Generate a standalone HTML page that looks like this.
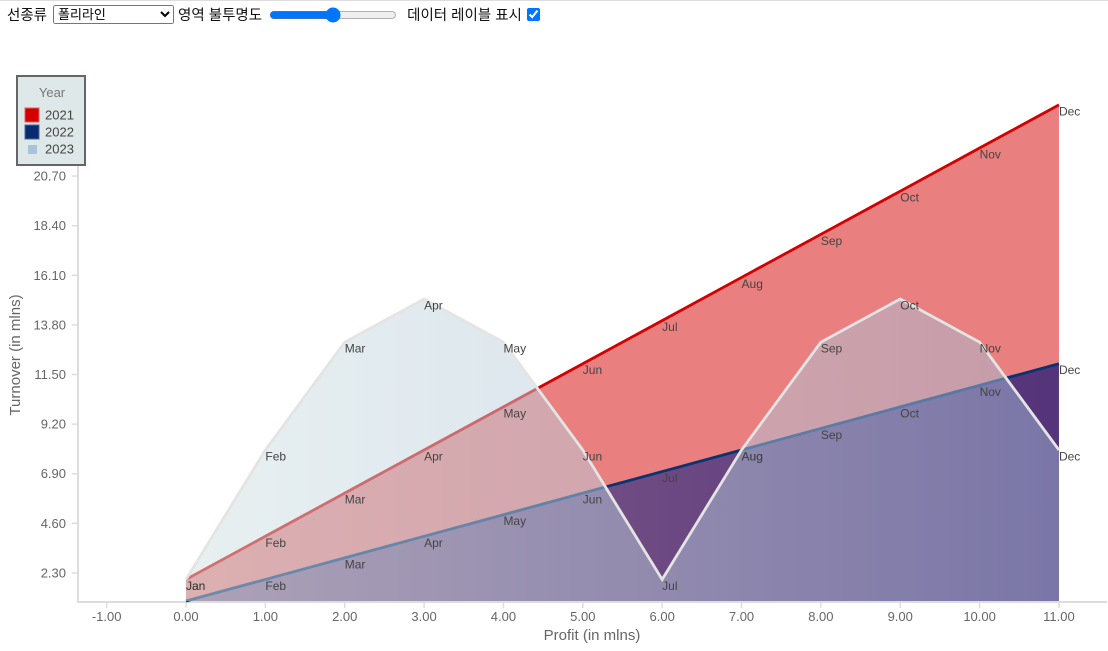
<!DOCTYPE html>
<html><head><meta charset="utf-8">
<style>
body{margin:0;width:1108px;height:651px;overflow:hidden;background:#fff;font-family:"Liberation Sans","Noto Sans CJK KR",sans-serif;}
#top{position:absolute;left:0;top:0;width:1108px;height:1px;background:#ddd}
#ctrl{position:absolute;left:7px;top:4px;font-size:14.5px;color:#111;display:flex;align-items:center;gap:4px;white-space:nowrap}
select{font-size:13px;width:121px;height:19px;padding:0;font-family:inherit;margin-left:2px}
input[type=range]{width:128px;margin:0 6px 0 3px}
input[type=checkbox]{margin:0 0 0 1px;width:13px;height:13px}
svg{position:absolute;left:0;top:0}
</style></head><body>
<div id="top"></div>
<div id="ctrl">
<span>선종류</span>
<select><option>폴리라인</option></select>
<span>영역 불투명도</span>
<input type="range" min="0" max="100" value="50">
<span>데이터 레이블 표시</span>
<input type="checkbox" checked>
</div>
<svg id="chart" width="1108" height="651">
<defs>
<linearGradient id="g22" x1="0" x2="1" y1="0" y2="0"><stop offset="0" stop-color="#6a5a90"/><stop offset="1" stop-color="#221a78"/></linearGradient>
<linearGradient id="g23" x1="0" x2="1" y1="0" y2="0"><stop offset="0" stop-color="#d0e0e2"/><stop offset="1" stop-color="#a0b8d4"/></linearGradient>
</defs>
</svg>
<script>
const months=["Jan","Feb","Mar","Apr","May","Jun","Jul","Aug","Sep","Oct","Nov","Dec"];
const xVals=[0,1,2,3,4,5,6,7,8,9,10,11];
const s2021=[2,4,6,8,10,12,14,16,18,20,22,24];
const s2022=[1,2,3,4,5,6,7,8,9,10,11,12];
const s2023=[2,8,13,15,13,8,2,8,13,15,13,8];
const xTicks=[-1,0,1,2,3,4,5,6,7,8,9,10,11];
const yTicks=[2.3,4.6,6.9,9.2,11.5,13.8,16.1,18.4,20.7];
const NS="http://www.w3.org/2000/svg";
const svg=document.getElementById('chart');
const X=v=>186+79.36*v;
const Y=v=>601-21.57*(v-1);
function mk(t,a,p){const e=document.createElementNS(NS,t);for(const k in a)e.setAttribute(k,a[k]);(p||svg).appendChild(e);return e;}
let ax=mk('line',{x1:78,y1:160,x2:78,y2:602,stroke:'#ddd','stroke-width':2});


let bx=mk('line',{x1:77,y1:602,x2:1107,y2:602,stroke:'#ddd','stroke-width':2});


xTicks.forEach(v=>{
 mk('line',{x1:X(v),y1:602,x2:X(v),y2:608,stroke:'#ddd','stroke-width':1.5});
 const t=mk('text',{x:X(v),y:621,'text-anchor':'middle','font-size':13,fill:'#666'});
 t.textContent=v.toFixed(2);
 
 
});
yTicks.forEach(v=>{
 mk('line',{x1:72,y1:Y(v),x2:78,y2:Y(v),stroke:'#ddd','stroke-width':1.5});
 const t=mk('text',{x:66,y:Y(v)+4.5,'text-anchor':'end','font-size':13,fill:'#666'});
 t.textContent=v.toFixed(2);
 
 
});
let xt=mk('text',{x:592,y:640,'text-anchor':'middle','font-size':15,fill:'#666'});xt.textContent='Profit (in mlns)';


let yt=mk('text',{x:20,y:355,'text-anchor':'middle','font-size':15,fill:'#666',transform:'rotate(-90 20 355)'});yt.textContent='Turnover (in mlns)';


function series(vals,fill,op,stroke,name){
 const pts=vals.map((v,i)=>X(xVals[i])+','+Y(v));
 const area=mk('polygon',{points:X(xVals[0])+','+601+' '+pts.join(' ')+' '+X(xVals[xVals.length-1])+','+601,fill:fill,'fill-opacity':op});
 
 
 const ln=mk('polyline',{points:pts.join(' '),fill:'none',stroke:stroke,'stroke-width':2.8});
 
 
}
series(s2021,'#d40000',0.5,'#d40000','2021');
series(s2022,'url(#g22)',0.75,'#0a3470','2022');
series(s2023,'url(#g23)',0.5,'#e4e4e4','2023');
[s2021,s2022,s2023].forEach((s,k)=>{
 s.forEach((v,i)=>{
  const t=mk('text',{x:X(xVals[i]),y:Math.min(Y(v)+10.5,590),'font-size':12,fill:'#444'});
  t.textContent=months[i];
  
  
 });
});
const lg=mk('g',{});


mk('rect',{x:17,y:76,width:68,height:89,fill:'#dfe8e8',stroke:'#666','stroke-width':2},lg);
let lt=mk('text',{x:52,y:97,'text-anchor':'middle','font-size':13,fill:'#777'},lg);lt.textContent='Year';
const lc=['#d40000','#0a2a70','#a8c4dc'];const ln=['2021','2022','2023'];
ln.forEach((n,i)=>{
 const y=108+i*17;
 const r=i<2?mk('rect',{x:25,y:y,width:14,height:14,fill:lc[i],stroke:i==0?'#e06060':'#4a6a9a'},lg):mk('rect',{x:28,y:y+3,width:9,height:9,fill:lc[i]},lg);
 
 
 const t=mk('text',{x:45,y:y+11.5,'font-size':13,fill:'#444'},lg);t.textContent=n;
 
 
});
</script>
</body></html>
